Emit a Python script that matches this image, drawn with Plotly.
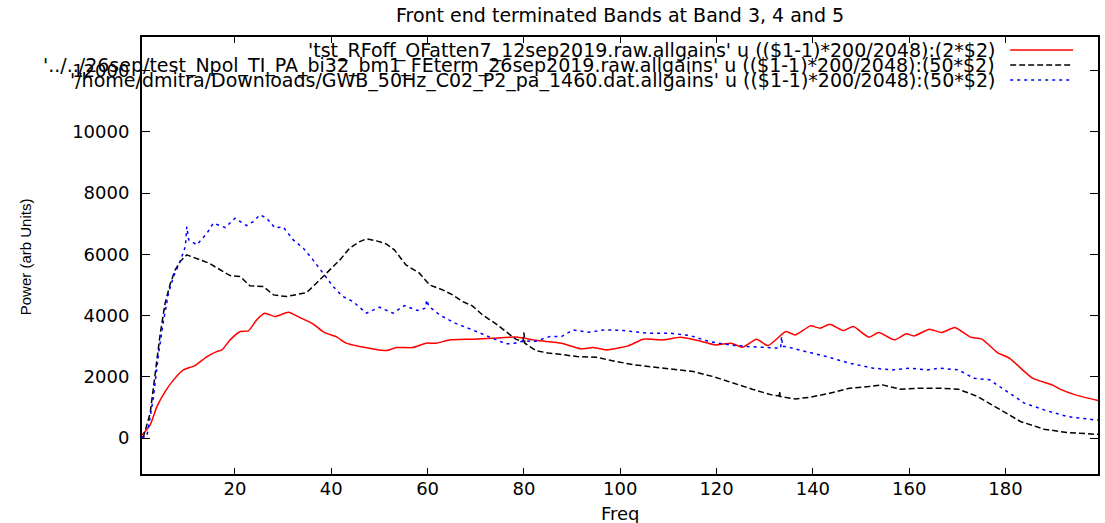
import plotly.graph_objects as go

# ---------------- data ----------------
red_f = [0.7, 2.4, 3.8, 5.5, 7.25, 9.3, 11.7, 14.2, 16.2, 17.3, 19.0, 21.1, 22.8, 24.5, 26.2, 28.3,
         31.1, 33.5, 36.2, 38.6, 41.0, 43.1, 45.9, 48.7, 51.4, 53.5, 56.9, 59.7, 61.8, 64.5, 69.3,
         73.5, 78.3, 82.9, 87.8, 91.8, 94.3, 97.1, 101.6, 104.8, 108.9, 112.5, 116.2, 119.8, 123.0,
         125.4, 128.3, 130.7, 134.4, 136.3, 139.5, 141.5, 143.5, 146.3, 148.4, 151.6, 153.7, 156.9,
         159.4, 161.0, 164.2, 166.7, 169.5, 172.7, 175.1, 178.3, 180.8, 185.6, 189.7, 191.3, 194.5, 199.2]
red_v = [100, 434, 1032, 1522, 1904, 2230, 2370, 2665, 2828, 2882, 3209, 3482, 3504, 3862, 4081, 3971,
         4114, 3938, 3732, 3448, 3317, 3102, 2991, 2915, 2860, 2958, 2958, 3102, 3102, 3209, 3232,
         3264, 3300, 3187, 3100, 2916, 2959, 2883, 3013, 3232, 3210, 3298, 3187, 3046, 3100,
         2970, 3232, 3024, 3482, 3373, 3667, 3591, 3722, 3514, 3645, 3298, 3449, 3210,
         3406, 3340, 3559, 3449, 3612, 3298, 3232, 2796, 2612, 1959, 1740, 1600, 1414, 1229]

black_f = [0.7, 1.0, 2.4, 3.45, 4.5, 5.5, 6.6, 7.6, 8.6, 10.0, 10.7, 12.8, 14.6, 16.9, 19.0, 21.1,
           23.1, 25.9, 28.0, 30.7, 32.8, 34.9, 36.9, 39.0, 41.8, 43.8, 45.9, 47.3, 49.4, 51.4, 53.1,
           55.5, 58.3, 60.4, 63.1, 65.2, 67.3, 69.3, 71.4, 74.2, 76.2, 78.3, 79.8, 80.0, 80.2, 82.5,
           85.0, 87.0, 91.0, 95.0, 99.1, 103.1, 107.2, 111.2, 115.2, 119.3, 123.3, 127.4, 131.4,
           133.0, 133.1, 133.2, 136.3, 139.5, 143.5, 147.6, 151.6, 154.5, 158.1, 162.1, 166.2, 170.2,
           174.2, 178.3, 183.1, 188.0, 192.8, 198.5, 199.2]
black_v = [50, 50, 816, 2122, 3428, 4408, 5061, 5495, 5766, 5985, 5950, 5822, 5714, 5495, 5309, 5277,
           4973, 4950, 4679, 4624, 4679, 4755, 5061, 5387, 5822, 6204, 6419, 6507, 6442, 6344, 6148,
           5658, 5387, 5005, 4842, 4679, 4461, 4320, 4026, 3732, 3482, 3232, 3150, 3450, 3100, 2860,
           2780, 2752, 2665, 2643, 2502, 2393, 2318, 2253, 2175, 2011, 1796, 1600, 1414,
           1380, 1530, 1360, 1283, 1338, 1469, 1632, 1687, 1740, 1600, 1632, 1632, 1600,
           1360, 980, 544, 294, 184, 130, 125]

blue_f = [0.7, 1.7, 3.1, 4.15, 5.2, 6.2, 7.25, 8.6, 9.7, 10.0, 10.4, 12.1, 14.2, 15.5, 18.0, 20.0,
          22.4, 23.8, 25.2, 26.6, 28.3, 30.0, 32.1, 34.2, 36.2, 38.3, 40.4, 42.4, 44.5, 47.3, 50.0,
          52.8, 55.2, 57.9, 59.6, 59.8, 60.3, 62.5, 65.7, 69.3, 72.8, 76.3, 78.1, 80.0, 82.2, 85.4,
          87.8, 90.2, 93.5, 96.7, 100.7, 105.6, 110.4, 114.5, 118.5, 122.6, 126.6, 131.4, 133.3,
          133.5, 133.7, 134.3, 137.9, 142.8, 147.6, 152.5, 156.5, 160.1, 163.8, 166.2, 170.2, 173.4,
          176.7, 179.9, 183.9, 188.0, 192.8, 198.5, 199.2]
blue_v = [30, 50, 1360, 2775, 3862, 4734, 5277, 5766, 6257, 6909, 6475, 6312, 6693, 7020, 6877, 7183,
          6942, 7072, 7291, 7183, 6866, 6898, 6475, 6204, 5822, 5387, 4951, 4624, 4461, 4081, 4277,
          4081, 4330, 4167, 4250, 4515, 4298, 4026, 3755, 3536, 3298, 3079, 3100, 3180, 3154, 3317,
          3317, 3536, 3461, 3536, 3515, 3428, 3428, 3350, 3154, 3046, 2991, 2938, 2938,
          3317, 2991, 2991, 2860, 2665, 2449, 2286, 2230, 2286, 2230, 2286, 2230, 1959,
          1905, 1577, 1143, 924, 705, 598, 590]

x_ticks = [20, 40, 60, 80, 100, 120, 140, 160, 180]
y_ticks = [0, 2000, 4000, 6000, 8000, 10000, 12000]

legend_labels = [
    "'tst_RFoff_OFatten7_12sep2019.raw.allgains' u (($1-1)*200/2048):(2*$2)",
    "'../../26sep/test_Npol_TI_PA_bi32_bm1_FEterm_26sep2019.raw.allgains' u (($1-1)*200/2048):(50*$2)",
    "'/home/dmitra/Downloads/GWB_50Hz_C02_P2_pa_1460.dat.allgains' u (($1-1)*200/2048):(50*$2)",
]
title_text = "Front end terminated Bands at Band 3, 4 and 5"
x_title = "Freq"
y_title = "Power (arb Units)"

# ---------------- styles ----------------
colors = ["#ff0000", "#000000", "#0000ff"]
dashes = ["solid", "6px,3px", "3px,4px"]

W, H = 1105, 523
L, R, T, B = 142, 5, 37, 49
pw, ph = W - L - R, H - T - B

fig = go.Figure()
fig.add_trace(go.Scatter(x=red_f, y=red_v, mode="lines", line=dict(color=colors[0], width=1.5, dash=dashes[0], shape="spline", smoothing=0.5), showlegend=False))
fig.add_trace(go.Scatter(x=black_f, y=black_v, mode="lines", line=dict(color=colors[1], width=1.5, dash=dashes[1]), showlegend=False))
fig.add_trace(go.Scatter(x=blue_f, y=blue_v, mode="lines", line=dict(color=colors[2], width=1.5, dash=dashes[2]), showlegend=False))

tick_font = dict(family="DejaVu Sans", size=18, color="black")
fig.update_xaxes(range=[0.7, 199.2], tickvals=x_ticks, ticks="inside", ticklen=6, tickcolor="black",
                 showline=True, linecolor="black", linewidth=2, mirror="ticks", showgrid=False,
                 zeroline=False, tickfont=tick_font, ticklabelstandoff=-3)
fig.update_yaxes(range=[-1170, 13100], tickvals=y_ticks, tickformat="d", ticks="inside", ticklen=8, tickcolor="black",
                 showline=True, linecolor="black", linewidth=2, mirror="ticks", showgrid=False,
                 zeroline=False, tickfont=tick_font, ticklabelstandoff=7)

annotations = [
    dict(text=title_text, xref="paper", yref="paper", x=0.5, y=(H - 15 - B) / ph, xanchor="center", yanchor="middle",
         showarrow=False, font=dict(family="DejaVu Sans", size=19, color="black")),
    dict(text=x_title, xref="paper", yref="paper", x=(622 - L) / pw, y=(H - 513 - B) / ph, xanchor="center", yanchor="middle",
         showarrow=False, font=dict(family="DejaVu Sans", size=18, color="black")),
    dict(text=y_title, xref="paper", yref="paper", x=(25 - L) / pw, y=(H - 257 - B) / ph, xanchor="center", yanchor="middle",
         textangle=-90, showarrow=False, font=dict(family="Liberation Sans", size=15, color="black")),
]
shapes = []
row_y = [50, 65, 80]
for i, lab in enumerate(legend_labels):
    yp = (H - row_y[i] - B) / ph
    annotations.append(dict(text=lab, xref="paper", yref="paper", x=(999 - L) / pw, y=yp, xanchor="right", yanchor="middle",
                            showarrow=False, font=dict(family="DejaVu Sans", size=19, color="black")))
    shapes.append(dict(type="line", xref="paper", yref="paper", x0=(1012 - L) / pw, x1=(1075 - L) / pw, y0=yp, y1=yp,
                       line=dict(color=colors[i], width=1.5, dash=dashes[i])))

fig.update_layout(width=W, height=H, autosize=False, margin=dict(l=L, r=R, t=T, b=B),
                  plot_bgcolor="white", paper_bgcolor="white", annotations=annotations, shapes=shapes)

fig.write_html("out.html")
